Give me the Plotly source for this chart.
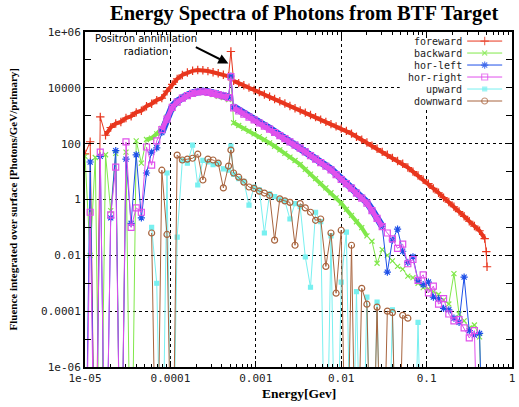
import plotly.graph_objects as go
import numpy as np

# Energy bins [GeV] (shared by all spectra)
energy = [
    1.0e-5, 1.15e-5, 1.32e-5, 1.51e-5, 1.74e-5, 2.0e-5, 2.29e-5, 2.63e-5, 3.02e-5, 3.47e-5,      # 0-9
    3.98e-5, 4.57e-5, 5.25e-5, 6.03e-5, 6.92e-5, 7.94e-5, 9.12e-5, 1.05e-4, 1.2e-4, 1.38e-4,     # 10-19
    1.58e-4, 1.82e-4, 2.09e-4, 2.4e-4, 2.75e-4, 3.16e-4, 3.63e-4, 4.17e-4, 4.79e-4, 5.11e-4,     # 20-29
    5.5e-4, 6.31e-4, 7.24e-4, 8.32e-4, 9.55e-4, 1.1e-3, 1.26e-3, 1.45e-3, 1.66e-3, 1.91e-3,      # 30-39
    2.19e-3, 2.51e-3, 2.88e-3, 3.31e-3, 3.8e-3, 4.37e-3, 5.01e-3, 5.75e-3, 6.61e-3, 7.59e-3,     # 40-49
    8.71e-3, 1.0e-2, 1.15e-2, 1.32e-2, 1.51e-2, 1.74e-2, 2.0e-2, 2.29e-2, 2.63e-2, 3.02e-2,      # 50-59
    3.47e-2, 3.98e-2, 4.57e-2, 5.25e-2, 6.03e-2, 6.92e-2, 7.94e-2, 9.12e-2, 0.105, 0.12,         # 60-69
    0.138, 0.158, 0.182, 0.209, 0.24, 0.275, 0.316, 0.363, 0.417, 0.479,                         # 70-79
    0.50, 0.51,                                                                                  # 80-81
]

Z = 1e-12   # empty bin (zero fluence, falls below the axis)
N = None    # no entry

foreward = [
    43, 117, Z, 910, 200, 380, 525, 600, 830, 955,
    1320, 1510, 2190, 2690, 3630, 4270, 7590, 13200, 20900, 28800,
    35500, 40700, 43700, 42700, 39800, 36300, 33100, 29500, 25700, 200000,
    17800, 14800, 12300, 10200, 8320, 7080, 5750, 4790, 3980, 3310,
    2750, 2240, 1860, 1550, 1290, 1070, 891, 724, 603, 501,
    417, 347, 288, 229, 178, 138, 110, 85, 66, 51,
    40, 31, 24, 19, 14, 10, 7.2, 5.1, 3.7, 2.5,
    1.74, 1.17, 0.81, 0.55, 0.37, 0.25, 0.166, 0.112, 0.076, 0.040,
    0.0135, 0.0039,
]

backward = [
    35, 0.01, 32, Z, 40, 0.4, 45, Z, 50, Z,
    126, 20, 141, 158, 224, 355, 891, 1780, 2820, 4170,
    5370, 6310, 6920, 6920, 6310, 5750, 5010, 4470, 3800, 25100,
    562, 447, 355, 282, 224, 178, 141, 107, 81, 60,
    45, 33, 25, 18, 12, 8.1, 5.6, 3.8, 2.6, 1.74,
    1.15, 0.74, 0.44, 0.27, 0.16, 0.098, 0.05, 0.032, 0.0052, 0.016,
    0.01, 0.0063, 0.004, 0.0032, 0.0018, 0.0016, 0.001, 0.0007, 0.00063, 0.0005,
    0.0004, 0.00025, 0.00018, 0.0022, 7.9e-5, 4.5e-5, 2.5e-5, 3.2e-5, 1.2e-5, Z,
    N, N,
]

hor_left = [
    Z, 22, Z, 35, Z, 0.22, 56, Z, 28, 0.14,
    40, 0.22, 8.9, 50, 71, 251, 794, 2140, 3310, 4570,
    5500, 6610, 7410, 7590, 7240, 6610, 6030, 5370, 4680, 26300,
    2090, 1580, 1230, 955, 759, 589, 457, 355, 269, 209,
    162, 123, 95, 74, 55, 40, 30, 22, 16.6, 12.3,
    8.3, 5.6, 4.0, 2.75, 1.82, 1.2, 0.79, 0.43, 0.22, 0.11,
    0.0025, 0.035, 0.087, 0.014, 0.0056, 0.0089, 0.00126, 0.00089, 0.0011, 0.00032,
    0.00028, 0.000126, 0.000112, 5.6e-5, 4e-5, 0.00166, 2e-5, 1.4e-5, 1.6e-5, Z,
    N, N,
]

hor_right = [
    Z, 0.35, Z, 50, Z, 0.28, 14.5, Z, 115, 0.1,
    0.5, 0.35, 76, 17, 126, 316, 759, 2000, 3090, 4270,
    5250, 6310, 7080, 7240, 6920, 6310, 5750, 5130, 4470, 25100,
    1910, 1480, 1150, 891, 708, 550, 427, 331, 251, 195,
    151, 115, 89, 69, 51, 37, 28, 21, 15.5, 11.5,
    7.8, 5.2, 3.7, 2.57, 1.7, 1.12, 0.74, 0.4, 0.21, 0.107,
    0.063, 0.039, 0.0178, 0.025, 0.005, 0.0071, 0.00126, 0.002, 0.00045, 0.00079,
    0.000178, 0.00028, 7.9e-5, 4.5e-5, 5e-5, 2.5e-5, 1.1e-5, 2e-5, Z, N,
    N, N,
]

upward = [
    N, N, N, N, N, N, N, N, N, N,
    N, N, N, 0.1, 0.001, Z, 8.9, Z, 0.045, 25,
    20, 89, 3.3, 25, 22, 17.8, 20, 12.6, 11.2, 81,
    7.9, 5.6, 4.5, 0.63, 2.8, 2.2, 0.063, 1.58, 1.26, 1.0,
    0.89, 0.2, 0.71, 0.56, 0.0087, 0.00072, 0.35, 0.16, Z, 0.05,
    Z, 0.0011, 0.068, Z, 0.0005, Z, 0.00032, Z, 0.00021, Z,
    Z, 0.000112, Z, Z, Z, Z, 4e-5, Z, N, N,
    N, N, N, N, N, N, N, N, N, N,
    N, N,
]

downward = [
    N, N, N, N, N, N, N, N, N, N,
    N, N, N, 0.063, Z, 11.2, 0.056, Z, 39, 26,
    28, 30, 42, 5.0, 28, 26, 20, 2.6, 15.8, 59,
    8.9, 6.3, 4.2, 2.8, 2.5, 2.0, 1.7, 1.41, 0.035, 1.05,
    0.89, 0.79, 0.023, 0.71, 0.5, 0.35, 0.18, 0.2, 0.004, 0.063,
    0.00044, 0.079, Z, 0.023, Z, 0.00066, 0.000178, Z, 0.00014, Z,
    0.0001, 8.9e-5, Z, 7.1e-5, 5.6e-5, N, N, N, N, N,
    N, N, N, N, N, N, N, N, N, N,
    N, N,
]

series_names = ["foreward", "backward", "hor-left", "hor-right", "upward", "downward"]
series_data = [foreward, backward, hor_left, hor_right, upward, downward]
colors = ["#e8361e", "#80e84a", "#1e50e8", "#e050ec", "#78f0f0", "#a8643e"]
symbols = ["cross-thin", "x-thin", "asterisk", "square-open", "square", "circle-open"]
msizes = [6, 5, 6, 6, 4, 6]
# smooth (densely populated) bin ranges drawn as a thick band, and band widths (px)
band_ranges = [[(4, 29), (30, 80)], [(12, 29), (30, 57)], [(15, 29), (30, 60)],
               [(15, 29), (30, 60)], [], []]
band_widths = [4, 4, 7, 5, 0, 0]

x_ticks = [1e-5, 1e-4, 1e-3, 1e-2, 1e-1, 1]
x_labels = ["1e-05", "0.0001", "0.001", "0.01", "0.1", "1"]
y_ticks = [1e-6, 1e-4, 1e-2, 1, 1e2, 1e4, 1e6]
y_labels = ["1e-06", "0.0001", "0.01", "1", "100", "10000", "1e+06"]
x_minor = [m * 10.0 ** k for k in range(-5, 0) for m in range(2, 10)]
y_minor = [1e-5, 1e-3, 1e-1, 1e1, 1e3, 1e5]

arrow_tip_energy = 4.77e-4
arrow_tip_flux = 7.5e4

# key layout (fractions of the plot area)
key_box = (0.737, 0.996, 0.775, 0.996)
key_text_right = 0.886
key_line = (0.895, 0.977)
key_top = 0.973
key_step = 0.0358

fig = go.Figure()

# white key background on the overlay axis (hides the grid behind the key)
fig.add_trace(go.Scatter(
    x=[key_box[0], key_box[1], key_box[1], key_box[0], key_box[0]],
    y=[key_box[2], key_box[2], key_box[3], key_box[3], key_box[2]],
    xaxis="x2", yaxis="y2", mode="lines", fill="toself", fillcolor="white",
    line=dict(width=0, color="white"), showlegend=False, hoverinfo="skip",
))

for k, (name, ys, col, sym, ms) in enumerate(zip(series_names, series_data, colors, symbols, msizes)):
    for (a, b) in band_ranges[k]:
        fig.add_trace(go.Scatter(
            x=energy[a:b], y=ys[a:b], mode="lines", showlegend=False, hoverinfo="skip",
            line=dict(color=col, width=band_widths[k]),
        ))
    fig.add_trace(go.Scatter(
        x=energy, y=ys, name=name, mode="lines+markers", showlegend=False,
        line=dict(color=col, width=1),
        marker=dict(symbol=sym, size=ms, color=col, line=dict(color=col, width=1.2)),
        connectgaps=False,
    ))
    # key sample (on a hidden overlay axis spanning the plot area)
    ky = key_top - k * key_step
    fig.add_trace(go.Scatter(
        x=[key_line[0], (key_line[0] + key_line[1]) / 2, key_line[1]], y=[ky, ky, ky],
        xaxis="x2", yaxis="y2", mode="lines+markers", showlegend=False, hoverinfo="skip",
        line=dict(color=col, width=1),
        marker=dict(symbol=sym, size=[0, ms, 0], color=col, line=dict(color=col, width=1.2)),
    ))
    fig.add_annotation(x=key_text_right, y=ky, xref="paper", yref="paper", text=name,
                       showarrow=False, xanchor="right", yanchor="middle", borderpad=0,
                       font=dict(family="DejaVu Sans Mono", size=10, color="#222"))

tickfont = dict(family="DejaVu Sans Mono", size=11, color="#222")
axis_common = dict(
    showline=True, linewidth=2, linecolor="black", mirror="allticks",
    ticks="inside", ticklen=6, tickcolor="black", tickfont=tickfont,
    showgrid=True, gridcolor="black", griddash="dot", gridwidth=1, zeroline=False,
)

fig.update_layout(
    xaxis=dict(type="log", range=[-5, 0], tickvals=x_ticks, ticktext=x_labels,
               minor=dict(tickvals=x_minor, ticks="inside", ticklen=3, tickcolor="black", showgrid=False),
               **axis_common),
    yaxis=dict(type="log", range=[-6, 6], tickvals=y_ticks, ticktext=y_labels,
               minor=dict(tickvals=y_minor, ticks="inside", ticklen=6, tickcolor="black", showgrid=False),
               **axis_common),
    xaxis2=dict(overlaying="x", range=[0, 1], visible=False, fixedrange=True),
    yaxis2=dict(overlaying="y", range=[0, 1], visible=False, fixedrange=True),
)

fig.add_annotation(
    x=np.log10(arrow_tip_energy), y=np.log10(arrow_tip_flux), xref="x", yref="y",
    text="", showarrow=True, arrowhead=2, arrowsize=1, arrowwidth=2, arrowcolor="black",
    ax=-34, ay=-17,
)
fig.add_annotation(
    x=0.142, y=0.962, xref="paper", yref="paper", text="Positron annihilation<br>radiation",
    showarrow=False, align="center", xanchor="center", yanchor="middle",
    font=dict(family="DejaVu Sans", size=10, color="black"),
)
fig.add_annotation(
    x=0.5, y=-0.078, xref="paper", yref="paper", text="<b>Energy[Gev]</b>",
    showarrow=False, xanchor="center", yanchor="middle",
    font=dict(family="Liberation Serif", size=13.5, color="black"),
)
fig.add_annotation(
    x=0, y=0.5, xref="paper", yref="paper", xshift=-73, textangle=-90,
    text="<b>Fluence integrated over surface [Photons/GeV/primary]</b>",
    showarrow=False, xanchor="center", yanchor="middle",
    font=dict(family="Liberation Serif", size=11, color="black"),
)

fig.update_layout(
    width=519, height=407,
    margin=dict(l=85, r=4, t=32, b=40),
    paper_bgcolor="white", plot_bgcolor="white",
    title=dict(text="<b>Energy Spectra of Photons from BTF Target</b>", x=0.586, xanchor="center",
               y=0.968, yanchor="middle", xref="container",
               font=dict(family="Liberation Serif", size=20.5, color="black")),
    showlegend=False,
)

fig.write_html("out.html")
